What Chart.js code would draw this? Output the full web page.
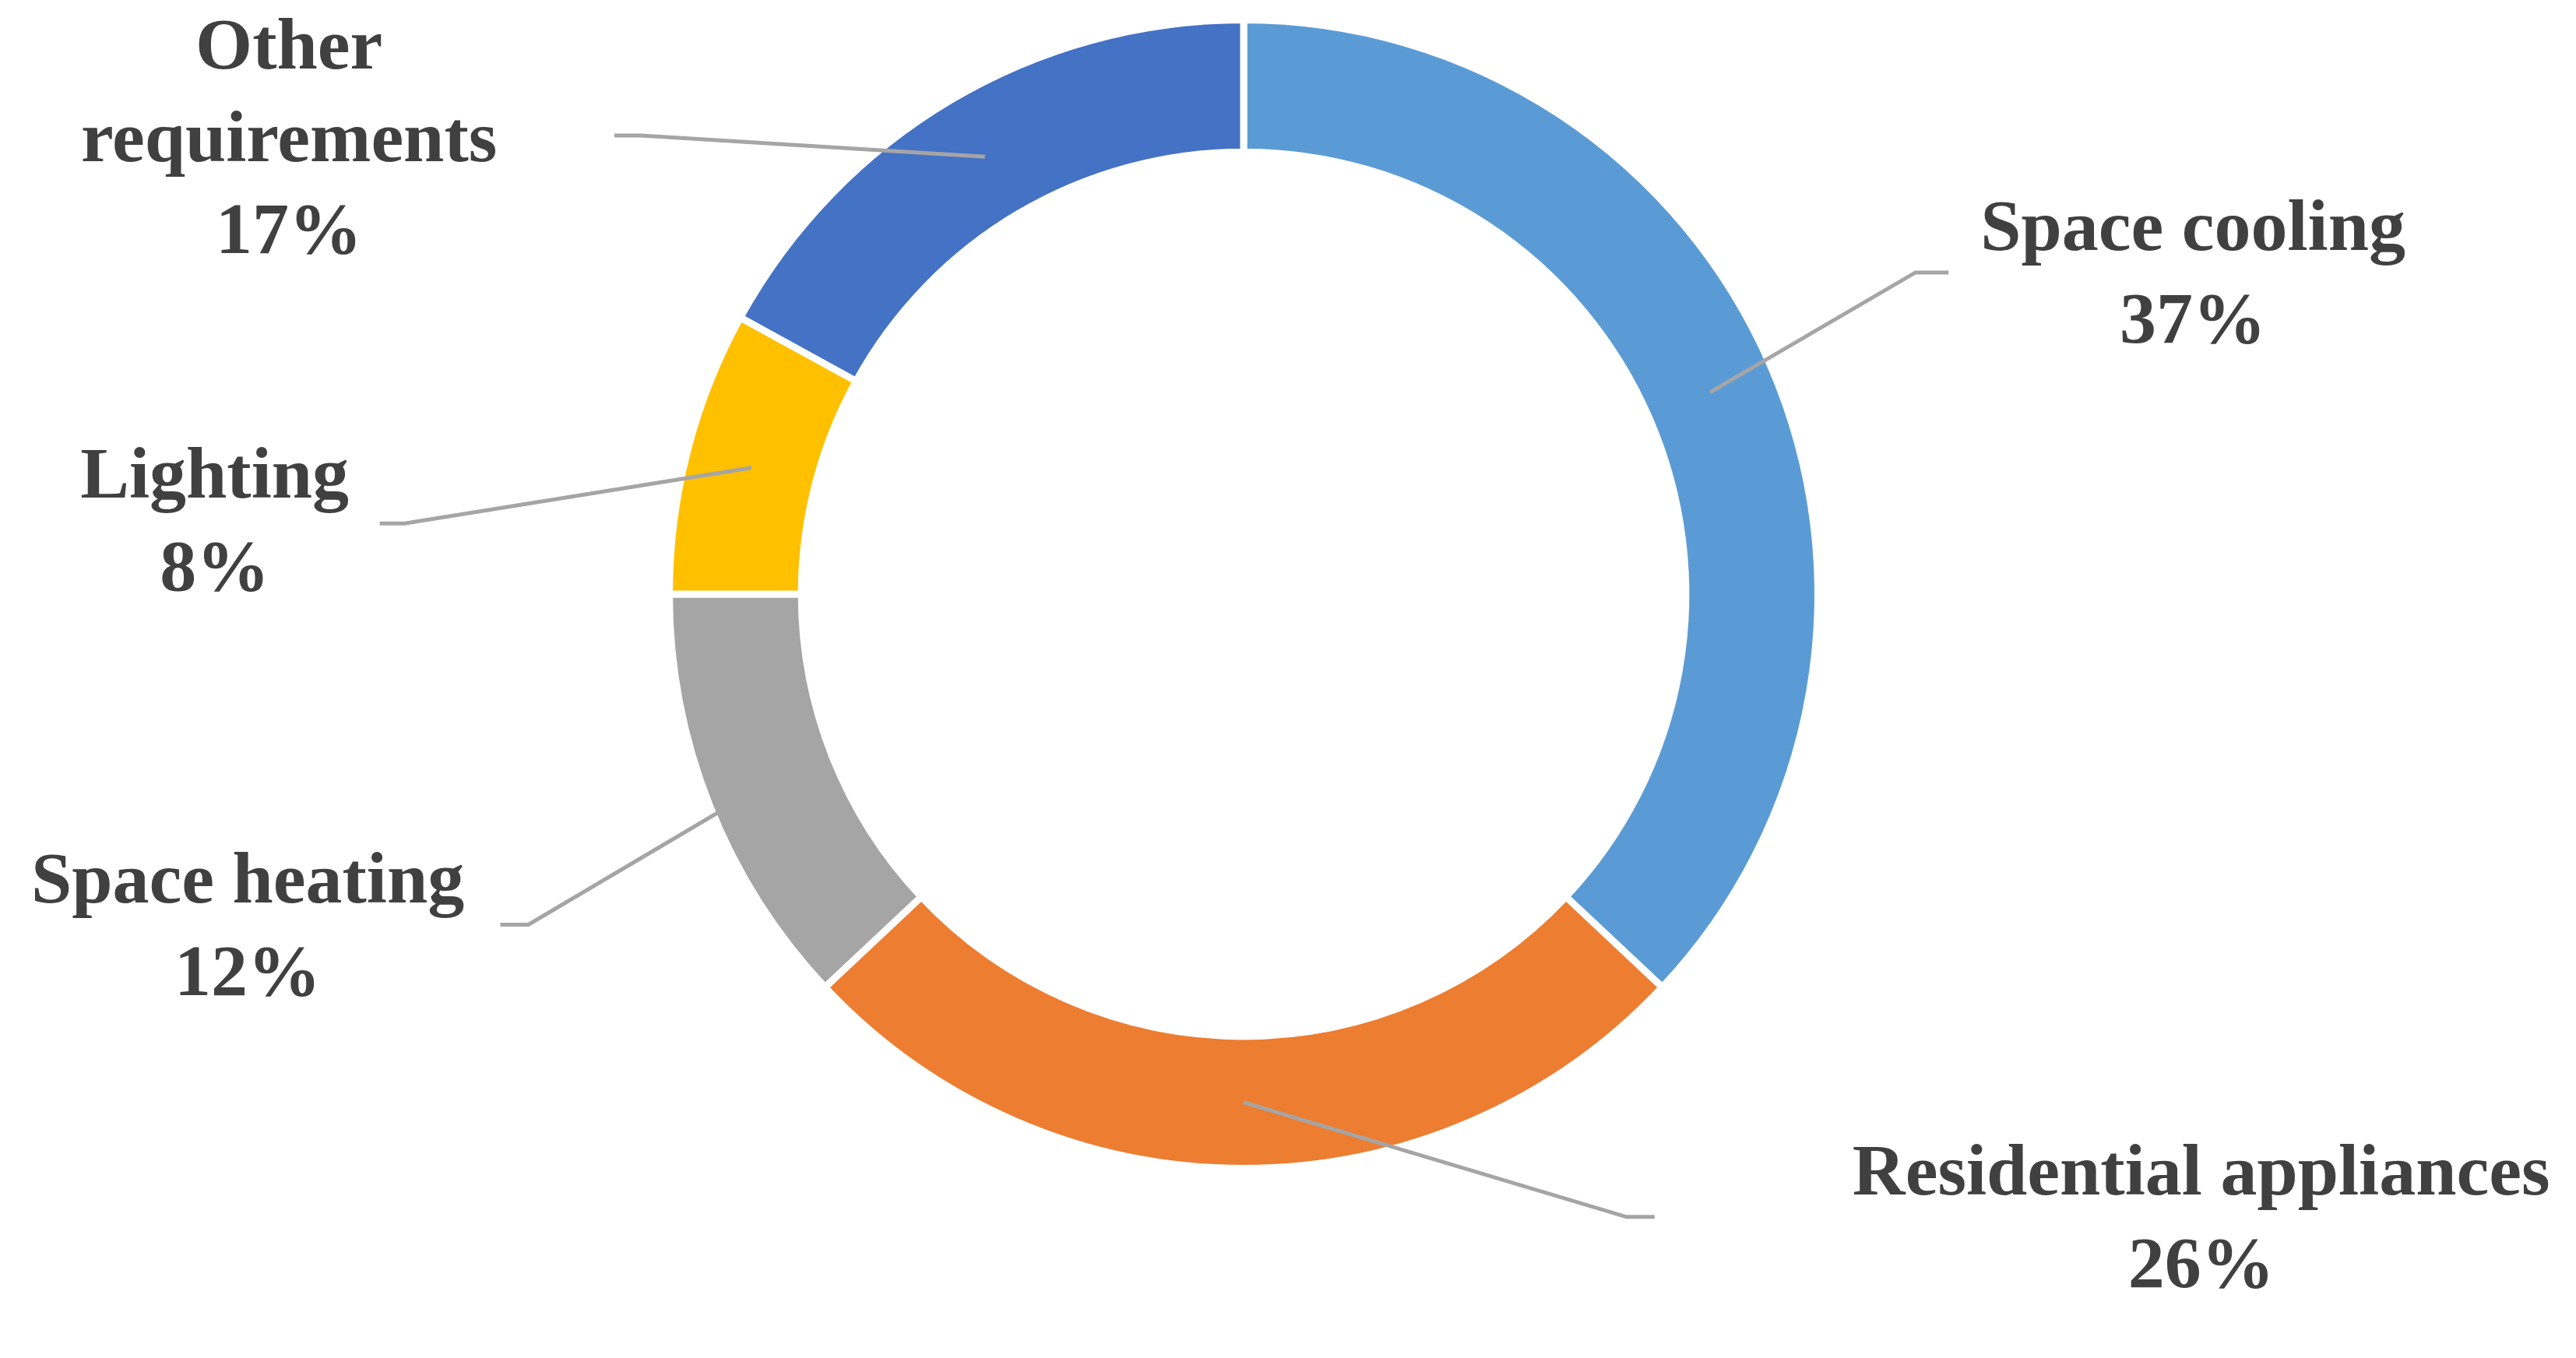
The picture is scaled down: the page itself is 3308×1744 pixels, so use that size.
<!DOCTYPE html>
<html lang="en">
<head>
<meta charset="UTF-8">
<title>Electricity demand by end use</title>
<script src="https://cdn.jsdelivr.net/npm/chart.js"></script>
<style>
    body { margin: 0; background: #ffffff; }
    canvas { display: block; }
</style>
</head>
<body>
<canvas id="donut" width="3308" height="1744"></canvas>
<script>
    // data
    const categories = ['Space cooling', 'Residential appliances', 'Space heating', 'Lighting', 'Other requirements'];
    const shares = [37, 26, 12, 8, 17];
    const colors = ['#5B9BD5', '#ED7D31', '#A5A5A5', '#FFC000', '#4472C4'];

    // label layout (reference px, scaled below)
    const S = 3308 / 1560;
    const labelLines = [
        ['Space cooling'], ['Residential appliances'], ['Space heating'], ['Lighting'], ['Other', 'requirements']
    ];
    const labelPos = [[1328, 140], [1333, 712], [150, 535], [130, 290], [175, 30]];
    const elbows = [[[1160, 165], [1180, 165]], [[985, 737], [1002, 737]], [[320, 560], [303, 560]],
                    [[245, 317], [230, 317]], [[388, 82], [372, 82]]];

    const labelPlugin = {
        id: 'donutLabels',
        afterDraw(chart) {
            const ctx = chart.ctx;
            const arcs = chart.getDatasetMeta(0).data;
            ctx.save();
            ctx.strokeStyle = '#A5A5A5';
            ctx.lineWidth = 5;
            arcs.forEach((arc, i) => {
                const p = arc.tooltipPosition();
                ctx.beginPath();
                ctx.moveTo(p.x, p.y);
                elbows[i].forEach(q => ctx.lineTo(q[0] * S, q[1] * S));
                ctx.stroke();
            });
            ctx.fillStyle = '#404040';
            ctx.font = 'bold 94px "Liberation Serif", "Times New Roman", serif';
            ctx.textAlign = 'center';
            ctx.textBaseline = 'middle';
            const lh = 56 * S;
            labelLines.forEach((lines, i) => {
                const all = lines.concat([shares[i] + '%']);
                all.forEach((t, k) => {
                    ctx.fillText(t, labelPos[i][0] * S, labelPos[i][1] * S + k * lh);
                });
            });
            ctx.restore();
        }
    };

    new Chart(document.getElementById('donut'), {
        type: 'doughnut',
        data: {
            labels: categories,
            datasets: [{
                data: shares,
                backgroundColor: colors,
                borderColor: '#ffffff',
                borderWidth: 9
            }]
        },
        options: {
            responsive: false,
            animation: false,
            cutout: '77%',
            layout: { padding: { left: 855, right: 969, top: 21, bottom: 239 } },
            plugins: { legend: { display: false }, tooltip: { enabled: false } }
        },
        plugins: [labelPlugin]
    });
</script>
</body>
</html>
